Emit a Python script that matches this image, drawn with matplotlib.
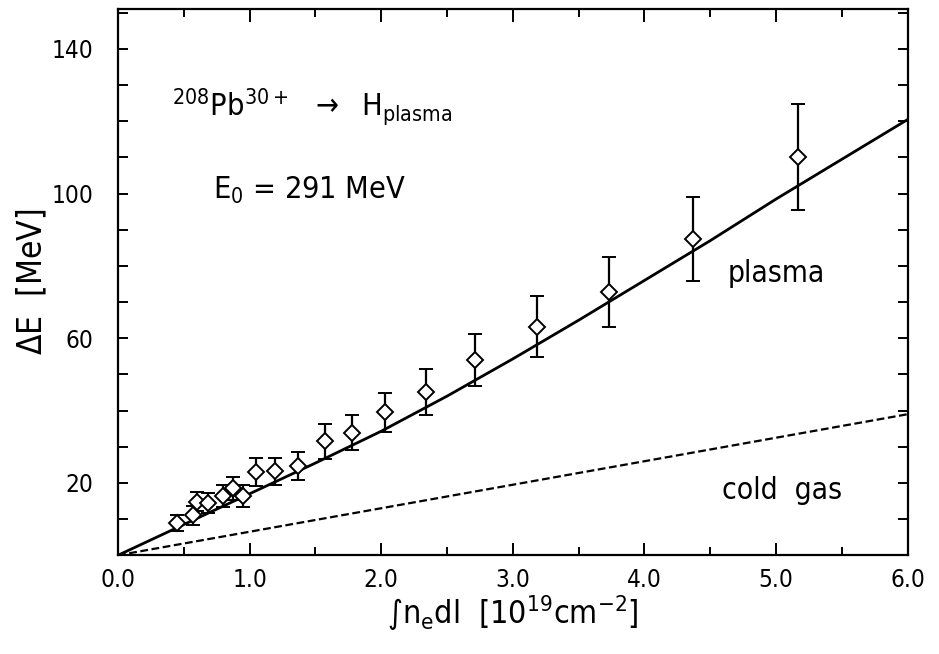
import numpy as np
import matplotlib
matplotlib.use("Agg")
import matplotlib.pyplot as plt
from matplotlib.ticker import MultipleLocator, FixedLocator

plt.rcParams['font.family'] = ['DejaVu Sans']
plt.rcParams['font.stretch'] = 'condensed'
plt.rcParams['mathtext.fontset'] = 'custom'
plt.rcParams['mathtext.rm'] = 'DejaVu Sans:stretch=condensed'
plt.rcParams['mathtext.it'] = 'DejaVu Sans:stretch=condensed'

nl = [0.45, 0.57, 0.60, 0.68, 0.80, 0.87, 0.95, 1.05, 1.19, 1.37,
      1.57, 1.78, 2.03, 2.34, 2.71, 3.18, 3.73, 4.37, 5.17]
dE = [8.8, 11.0, 14.8, 14.4, 16.4, 18.5, 16.4, 23.0, 23.2, 24.7,
      31.5, 33.9, 39.5, 45.2, 54.0, 63.2, 72.8, 87.4, 110.2]
dE_err = [2.2, 2.5, 2.7, 2.7, 3.0, 3.1, 3.0, 3.8, 3.8, 3.9,
          4.8, 4.8, 5.5, 6.3, 7.1, 8.4, 9.8, 11.6, 14.7]

# theory curves
x_plasma = [0, 0.5, 1.0, 1.5, 2.0, 2.5, 3.0, 3.5, 4.0, 4.5, 5.0, 5.5, 6.0]
y_plasma = [0, 8.5, 17.0, 25.5, 34.3, 44.0, 54.3, 65.0, 76.0, 87.0, 98.5, 109.5, 120.5]
x_cold = [0, 6.0]
y_cold = [0, 39.0]

fig = plt.figure(figsize=(9.39, 6.54), dpi=100)
ax = fig.add_axes([0.1257, 0.151, 0.841, 0.835])

ax.plot(x_plasma, y_plasma, color='black', lw=2.0)
ax.plot(x_cold, y_cold, color='black', lw=1.6, ls=(0, (3.5, 1.6)))
ax.errorbar(nl, dE, yerr=dE_err, fmt='D', ms=8, mfc='white', mec='black',
            mew=1.4, ecolor='black', elinewidth=1.6, capsize=4.8, capthick=1.6,
            zorder=3)

ax.set_xlim(0, 6)
ax.set_ylim(0, 151)
ax.xaxis.set_major_locator(MultipleLocator(1.0))
ax.xaxis.set_minor_locator(MultipleLocator(0.5))
ax.xaxis.set_major_formatter(plt.FuncFormatter(lambda v, p: '%.1f' % v))
ax.yaxis.set_major_locator(FixedLocator([20, 60, 100, 140]))
ax.yaxis.set_minor_locator(MultipleLocator(10))

ax.tick_params(which='both', direction='in', top=True, right=True,
               width=1.4, labelsize=17.5)
ax.tick_params(axis='x', which='major', length=9, pad=9)
ax.tick_params(axis='x', which='minor', length=5.5)
ax.tick_params(axis='y', which='both', length=7.5, pad=18)
for s in ax.spines.values():
    s.set_linewidth(1.6)

ax.set_xlabel(r'$\int$n$_\mathrm{e}$dl  [10$^{19}$cm$^{-2}$]', fontsize=23, labelpad=1)
ax.set_ylabel(r'$\Delta$E  [MeV]', fontsize=24, labelpad=1)

ax.text(0.41, 124, r'$^{208}$Pb$^{30+}$  $\rightarrow$  H$_\mathrm{plasma}$',
        fontsize=22, va='center')
ax.text(0.72, 101, r'E$_0$ = 291 MeV', fontsize=22, va='center')
ax.text(4.63, 78, 'plasma', fontsize=21.5, va='center')
ax.text(4.59, 18, 'cold  gas', fontsize=21.5, va='center')

fig.savefig('out.png', dpi=100)
